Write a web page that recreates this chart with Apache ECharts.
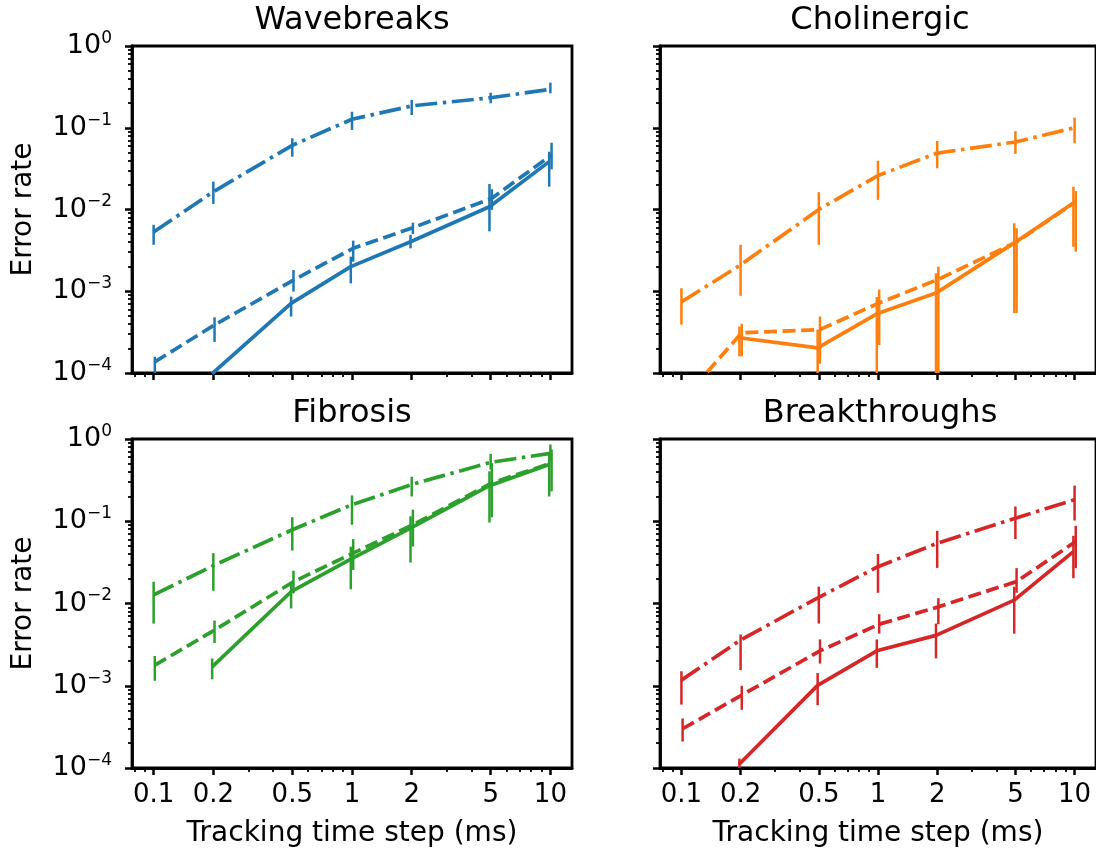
<!DOCTYPE html>
<html><head><meta charset="utf-8">
<script src="https://cdn.jsdelivr.net/npm/echarts@6/dist/echarts.min.js"></script>
<style>html,body{margin:0;padding:0;background:#fff}#chart{width:1096px;height:854px}</style>
</head><body><div id="chart"></div>
<script>
// ---------- data ----------
const xValues = [0.1, 0.2, 0.5, 1, 2, 5, 10];
const xTickLabels = ['0.1', '0.2', '0.5', '1', '2', '5', '10'];
const xMinorTicks = [0.08, 0.09, 0.3, 0.4, 0.6, 0.7, 0.8, 0.9, 3, 4, 6, 7, 8, 9];
const yTickExponents = [-4, -3, -2, -1, 0];
const panelTitles = ['Wavebreaks', 'Cholinergic', 'Fibrosis', 'Breakthroughs'];
const xAxisTitle = 'Tracking time step (ms)';
const yAxisTitle = 'Error rate';

// Wavebreaks
const wbSolid      = [null, 9.8e-5, 7.1e-4, 2.0e-3, 4.04e-3, 0.0108, 0.0385];
const wbSolidLo    = [null, null, 4.9e-4, 1.25e-3, 3.35e-3, 5.4e-3, 0.019];
const wbSolidHi    = [null, null, 8.6e-4, 2.65e-3, 4.9e-3, 0.0205, 0.0509];
const wbDashed     = [1.37e-4, 3.87e-4, 1.37e-3, 3.35e-3, 6.0e-3, 0.0137, 0.0465];
const wbDashedLo   = [9e-5, 2.4e-4, 9.9e-4, 2.3e-3, 5.0e-3, 9.9e-3, 0.031];
const wbDashedHi   = [1.58e-4, 4.8e-4, 1.82e-3, 4.16e-3, 6.9e-3, 0.0177, 0.0656];
const wbDashDot    = [5.3e-3, 0.0165, 0.061, 0.127, 0.185, 0.233, 0.295];
const wbDashDotLo  = [3.7e-3, 0.0117, 0.0443, 0.094, 0.143, 0.199, 0.264];
const wbDashDotHi  = [6.5e-3, 0.0219, 0.0743, 0.157, 0.219, 0.268, 0.356];

// Cholinergic
const chSolid      = [null, 2.7e-4, 2.03e-4, 5.3e-4, 9.5e-4, 3.9e-3, 0.012];
const chSolidLo    = [null, 1.6e-4, 1e-5, 1e-5, 1e-5, 5.4e-4, 3.5e-3];
const chSolidHi    = [null, 3.7e-4, 3.4e-4, 8.5e-4, 1.66e-3, 6.8e-3, 0.019];
const chDashed     = [4.7e-5, 3.1e-4, 3.4e-4, 7.2e-4, 1.4e-3, 4.0e-3, 0.0125];
const chDashedLo   = [null, 1.6e-4, 1.3e-4, 2.2e-4, 1e-5, 5.4e-4, 3.05e-3];
const chDashedHi   = [null, 4.0e-4, 4.9e-4, 1.05e-3, 2.0e-3, 5.9e-3, 0.0168];
const chDashDot    = [7.4e-4, 2.1e-3, 0.010, 0.026, 0.049, 0.067, 0.10];
const chDashDotLo  = [3.9e-4, 8.8e-4, 3.7e-3, 0.0131, 0.032, 0.048, 0.0645];
const chDashDotHi  = [1.09e-3, 3.7e-3, 0.0163, 0.0395, 0.0689, 0.091, 0.133];

// Fibrosis
const fiSolid      = [null, 1.7e-3, 0.0139, 0.0346, 0.0826, 0.271, 0.489];
const fiSolidLo    = [null, 1.2e-3, 8.7e-3, 0.0149, 0.0315, 0.0966, 0.2];
const fiSolidHi    = [null, 2.14e-3, 0.0168, 0.049, 0.115, 0.405, 0.666];
const fiDashed     = [1.78e-3, 4.75e-3, 0.0184, 0.041, 0.0906, 0.292, 0.51];
const fiDashedLo   = [1.15e-3, 3.3e-3, 0.0133, 0.0256, 0.0493, 0.112, 0.231];
const fiDashedHi   = [2.3e-3, 6.2e-3, 0.025, 0.0607, 0.138, 0.51, 0.745];
const fiDashDot    = [0.0127, 0.0289, 0.0787, 0.159, 0.28, 0.52, 0.67];
const fiDashDotLo  = [5.7e-3, 0.0143, 0.044, 0.0906, 0.2, 0.425, 0.547];
const fiDashDotHi  = [0.0184, 0.041, 0.112, 0.206, 0.347, 0.66, 0.857];

// Breakthroughs
const btSolid      = [null, 1.12e-4, 1.01e-3, 2.66e-3, 4.1e-3, 0.011, 0.0428];
const btSolidLo    = [null, 9e-5, 5.8e-4, 1.65e-3, 2.15e-3, 4.3e-3, 0.0203];
const btSolidHi    = [null, 1.3e-4, 1.43e-3, 3.66e-3, 5.7e-3, 0.016, 0.0665];
const btDashed     = [3.0e-4, 7.7e-4, 2.66e-3, 5.6e-3, 9.1e-3, 0.0185, 0.0567];
const btDashedLo   = [2.1e-4, 5.1e-4, 1.86e-3, 4.3e-3, 5.6e-3, 0.0135, 0.0269];
const btDashedHi   = [4.0e-4, 1.0e-3, 3.66e-3, 7.4e-3, 0.0116, 0.0269, 0.088];
const btDashDot    = [1.17e-3, 3.6e-3, 0.0119, 0.028, 0.054, 0.109, 0.183];
const btDashDotLo  = [5.9e-4, 1.55e-3, 5.7e-3, 0.0135, 0.0271, 0.0607, 0.102];
const btDashDotHi  = [1.5e-3, 4.2e-3, 0.016, 0.040, 0.0765, 0.151, 0.271];

// ---------- styles / layout ----------
const colors = ['#1f77b4', '#ff7f0e', '#2ca02c', '#d62728'];
const FONT = 'DejaVu Sans';
const grids = [
  {left: 132, top: 46, width: 440, height: 327},
  {left: 660, top: 46, width: 440, height: 327},
  {left: 132, top: 439, width: 440, height: 329},
  {left: 660, top: 439, width: 440, height: 329}
];
const styleDefs = [
  {type: 'solid', dx: -0.006},
  {type: [13, 5.6], dx: 0.006},
  {type: [22, 5.6, 3.5, 5.6], dx: 0}
];
const panelData = [
  [[wbSolid, wbSolidLo, wbSolidHi], [wbDashed, wbDashedLo, wbDashedHi], [wbDashDot, wbDashDotLo, wbDashDotHi]],
  [[chSolid, chSolidLo, chSolidHi], [chDashed, chDashedLo, chDashedHi], [chDashDot, chDashDotLo, chDashDotHi]],
  [[fiSolid, fiSolidLo, fiSolidHi], [fiDashed, fiDashedLo, fiDashedHi], [fiDashDot, fiDashDotLo, fiDashDotHi]],
  [[btSolid, btSolidLo, btSolidHi], [btDashed, btDashedLo, btDashedHi], [btDashDot, btDashDotLo, btDashDotHi]]
];

const L = Math.log10;
const xMin = L(0.1) - 0.109, xMax = L(10) + 0.109;
const xMajorLog = xValues.map(L);
const xMinorLog = xMinorTicks.map(L);
const yMinorLog = [];
for (let d = -4; d < 0; d++) for (let k = 2; k <= 9; k++) yMinorLog.push(d + L(k));

function xLabel(v) {
  for (let i = 0; i < xValues.length; i++) if (Math.abs(L(xValues[i]) - v) < 1e-6) return xTickLabels[i];
  return '';
}
function yLabel(v) {
  const e = Math.round(v);
  const s = e < 0 ? '\u2212' + (-e) : String(e);
  return '{b|10}{s|' + s + '}';
}

const xAxes = [], yAxes = [], series = [], graphics = [];
grids.forEach((g, gi) => {
  const bottomRow = gi >= 2, leftCol = gi % 2 === 0;
  xAxes.push({
    gridIndex: gi, type: 'value', min: xMin, max: xMax, position: 'bottom',
    axisLine: {show: true, onZero: false, lineStyle: {color: '#000', width: 2.8}},
    axisTick: {show: true, customValues: xMajorLog, length: 7, lineStyle: {color: '#000', width: 2.5}},
    axisLabel: {show: bottomRow, customValues: xMajorLog, formatter: xLabel, fontSize: 26, color: '#000', fontFamily: FONT, margin: 14},
    splitLine: {show: false},
    name: bottomRow ? xAxisTitle : '', nameLocation: 'middle', nameGap: 52,
    nameTextStyle: {fontSize: 28, color: '#000', fontFamily: FONT}
  });
  xAxes.push({
    gridIndex: gi, type: 'value', min: xMin, max: xMax, position: 'bottom',
    axisLine: {show: false, onZero: false},
    axisTick: {show: true, customValues: xMinorLog, length: 4, lineStyle: {color: '#000', width: 1.8}},
    axisLabel: {show: false}, splitLine: {show: false}
  });
  yAxes.push({
    gridIndex: gi, type: 'value', min: -4, max: 0, interval: 1, position: 'left',
    axisLine: {show: true, onZero: false, lineStyle: {color: '#000', width: 2.8}},
    axisTick: {show: true, length: 7, lineStyle: {color: '#000', width: 2.5}},
    axisLabel: {show: leftCol, formatter: yLabel, margin: 20, color: '#000', fontFamily: FONT,
      rich: {
        b: {fontSize: 27, lineHeight: 32, color: '#000', fontFamily: FONT},
        s: {fontSize: 17, lineHeight: 20, verticalAlign: 'top', color: '#000', fontFamily: FONT}
      }},
    splitLine: {show: false},
    name: leftCol ? yAxisTitle : '', nameLocation: 'middle', nameGap: 94,
    nameTextStyle: {fontSize: 28, color: '#000', fontFamily: FONT}
  });
  yAxes.push({
    gridIndex: gi, type: 'value', min: -4, max: 0, position: 'left',
    axisLine: {show: false, onZero: false},
    axisTick: {show: true, customValues: yMinorLog, length: 4, lineStyle: {color: '#000', width: 1.8}},
    axisLabel: {show: false}, splitLine: {show: false}
  });

  graphics.push({
    type: 'text', x: g.left + g.width / 2, y: g.top - 25,
    style: {text: panelTitles[gi], fontSize: 32, fontFamily: FONT, fill: '#000', align: 'center', verticalAlign: 'middle'}
  });

  const color = colors[gi];
  panelData[gi].forEach((trip, si) => {
    const [vals, lo, hi] = trip;
    const sd = styleDefs[si];
    const lineData = [];
    const errData = [];
    xValues.forEach((x, i) => {
      const xl = L(x) + sd.dx;
      if (vals[i] != null) lineData.push([xl, L(vals[i])]);
      if (lo[i] != null && hi[i] != null) errData.push([xl, L(lo[i]), L(hi[i])]);
    });
    series.push({
      type: 'line', xAxisIndex: 2 * gi, yAxisIndex: 2 * gi, data: lineData,
      showSymbol: false, symbol: 'none', clip: true, z: 3,
      lineStyle: {color: color, width: 3.7, type: sd.type, cap: 'butt', join: 'round'}
    });
    series.push({
      type: 'custom', xAxisIndex: 2 * gi, yAxisIndex: 2 * gi, data: errData, clip: true, z: 2,
      encode: {x: 0, y: [1, 2]},
      renderItem: (params, api) => {
        const p1 = api.coord([api.value(0), api.value(1)]);
        const p2 = api.coord([api.value(0), api.value(2)]);
        return {type: 'line', shape: {x1: p1[0], y1: p1[1], x2: p2[0], y2: p2[1]},
          style: {stroke: color, lineWidth: 2.5}};
      }
    });
  });
});

const chart = echarts.init(document.getElementById('chart'), null, {renderer: 'canvas'});
chart.setOption({
  animation: false,
  backgroundColor: '#fff',
  grid: grids.map(g => Object.assign({show: true, borderColor: '#000', borderWidth: 2.8, backgroundColor: 'transparent'}, g)),
  xAxis: xAxes,
  yAxis: yAxes,
  series: series,
  graphic: graphics
});
</script></body></html>
